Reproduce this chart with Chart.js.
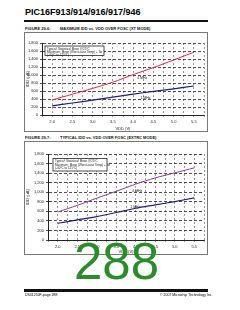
<!DOCTYPE html>
<html>
<head>
<meta charset="utf-8">
<script src="https://cdn.jsdelivr.net/npm/chart.js@4"></script>
<style>
  body { margin: 0; background: #fff; width: 240px; height: 310px; overflow: hidden; font-family: "Liberation Sans", Arial, sans-serif; }
  .abs { position: absolute; white-space: nowrap; line-height: 1; }
  .box { position: absolute; border: 1px solid #777; box-sizing: border-box; }
  .cap { font-size: 4px; font-weight: bold; color: #111; }
</style>
</head>
<body>
<div class="abs" style="left:25px; top:8px; font-size:9px; font-weight:bold;">PIC16F913/914/916/917/946</div>
<div class="abs" style="left:24px; top:20px; width:184px; height:2px; background:#111;"></div>

<div class="abs cap" style="left:25px; top:27px;">FIGURE 29-6:</div>
<div class="abs cap" style="left:60px; top:27px;">MAXIMUM IDD vs. VDD OVER FOSC (XT MODE)</div>
<div class="box" style="left:24px; top:32px; width:184px; height:100px;"></div>
<canvas id="c1" class="abs" style="left:25px; top:33px;" width="182" height="98"></canvas>

<div class="abs cap" style="left:25px; top:136px;">FIGURE 29-7:</div>
<div class="abs cap" style="left:60px; top:136px;">TYPICAL IDD vs. VDD OVER FOSC (EXTRC MODE)</div>
<div class="box" style="left:24px; top:141px; width:184px; height:114px;"></div>
<canvas id="c2" class="abs" style="left:25px; top:142px;" width="182" height="112"></canvas>

<div class="abs" style="left:74px; top:236px; font-size:51px; color:#2b8c2b; z-index:5;">288</div>

<div class="abs" style="left:24px; top:289px; width:184px; height:2.5px; background:#111;"></div>
<div class="abs" style="left:25px; top:294px; font-size:3.5px;">DS41250F-page 288</div>
<div class="abs" style="left:160px; top:294px; font-size:3.5px;">© 2007 Microchip Technology Inc.</div>

<script>
// VDD (V)
const vdd = [2.0, 2.5, 3.0, 3.5, 4.0, 4.5, 5.0, 5.5];

// Figure 29-6, maximum IDD (uA), XT mode
const maxXt4MHz = [375, 520, 665, 820, 1010, 1185, 1375, 1570];
const maxXt1MHz = [230, 300, 370, 445, 520, 590, 655, 725];

// Figure 29-7, typical IDD (uA), EXTRC mode
const typRc4MHz = [585, 725, 875, 1020, 1170, 1300, 1405, 1510];
const typRc1MHz = [350, 420, 490, 575, 665, 735, 805, 880];

const yTicks = [0, 200, 400, 600, 800, 1000, 1200, 1400, 1600, 1800];
const noteLines = [
  'Typical: Statistical Mean @25\u00B0C',
  'Maximum: Mean (Worst-case Temp) + 3\u03C3',
  '(-40\u00B0C to 125\u00B0C)'
];

const pts = (ys) => vdd.map((x, i) => ({ x: x, y: ys[i] }));

// note box and curve labels
const notes = {
  id: 'notes',
  afterDatasetsDraw(chart, args, opts) {
    const ctx = chart.ctx, a = chart.chartArea;
    const xs = chart.scales.x, ys = chart.scales.y;
    ctx.save();
    const bx = a.left + opts.box[0], by = a.top + opts.box[1];
    ctx.fillStyle = '#fff';
    ctx.fillRect(bx, by, opts.box[2], opts.box[3]);
    ctx.strokeStyle = '#222';
    ctx.lineWidth = 0.8;
    ctx.strokeRect(bx, by, opts.box[2], opts.box[3]);
    ctx.fillStyle = '#222';
    ctx.font = '3px "Liberation Sans"';
    ctx.textBaseline = 'top';
    noteLines.forEach((t, i) => ctx.fillText(t, bx + 2, by + 1.5 + i * 3.2));
    ctx.font = '3.5px "Liberation Sans"';
    ctx.textBaseline = 'middle';
    opts.labels.forEach(l => ctx.fillText(l[0], xs.getPixelForValue(l[1]), ys.getPixelForValue(l[2])));
    ctx.restore();
  }
};

function makeChart(id, upper, lower, upperColor, yWidth, xHeight, padTop, box, labels) {
  new Chart(document.getElementById(id), {
    type: 'line',
    data: {
      datasets: [
        { label: '4 MHz', data: pts(upper), borderColor: upperColor, borderWidth: 1, pointRadius: 0, tension: 0.3, fill: false },
        { label: '1 MHz', data: pts(lower), borderColor: '#1e1e80', borderWidth: 1.2, pointRadius: 0, tension: 0.3, fill: false }
      ]
    },
    options: {
      responsive: false,
      animation: false,
      layout: { padding: { top: padTop, right: 3, left: 0, bottom: 0 } },
      plugins: {
        legend: { display: false },
        tooltip: { enabled: false },
        notes: { box: box, labels: labels }
      },
      scales: {
        x: {
          type: 'linear', min: 1.75, max: 5.75,
          afterFit: s => { s.height = xHeight; },
          ticks: {
            stepSize: 0.25, autoSkip: false, maxRotation: 0, padding: 2,
            font: { size: 4, family: 'Liberation Sans' }, color: '#222',
            callback: v => Math.abs(v * 2 - Math.round(v * 2)) < 1e-6 ? v.toFixed(1) : ''
          },
          grid: { color: '#555', lineWidth: 0.6, tickLength: 2 },
          border: { color: '#222', width: 1, dash: [2, 2] },
          title: { display: true, text: 'VDD (V)', padding: 0, font: { size: 4, family: 'Liberation Sans' }, color: '#222' }
        },
        y: {
          min: 0, max: 1800,
          afterFit: s => { s.width = yWidth; },
          afterBuildTicks: s => { s.ticks = yTicks.map(v => ({ value: v })); },
          ticks: {
            padding: 2,
            font: { size: 4, family: 'Liberation Sans' }, color: '#222',
            callback: v => v.toLocaleString('en-US')
          },
          grid: { color: '#222', lineWidth: 0.8, tickLength: 2 },
          border: { color: '#222', width: 1, dash: [3, 2] },
          title: { display: true, text: 'IDD (\u00B5A)', padding: 0, font: { size: 4, family: 'Liberation Sans' }, color: '#222' }
        }
      }
    },
    plugins: [notes]
  });
}

makeChart('c1', maxXt4MHz, maxXt1MHz, '#e0283c', 17, 16, 10,
  [3, 3, 59, 9.5],
  [['4 MHz', 4.1, 925], ['1 MHz', 4.18, 432]]);

makeChart('c2', typRc4MHz, typRc1MHz, '#8c3a8c', 23, 14, 12,
  [5, 4.5, 54, 12.5],
  [['4 MHz', 3.91, 1032], ['1 MHz', 3.86, 700]]);
</script>
</body>
</html>
